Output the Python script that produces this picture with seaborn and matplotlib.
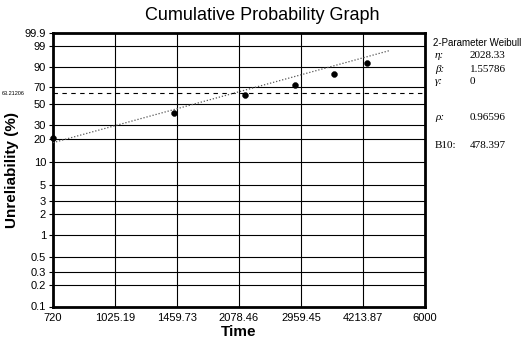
import numpy as np
import pandas as pd
import matplotlib
matplotlib.use("Agg")
import matplotlib.pyplot as plt
import seaborn as sns

# data
times = [722, 1435, 2156, 2861, 3573, 4300]
unreliability = [21, 41, 60, 72.5, 84.5, 93]

fit_times = [720, 4900]
fit_unrel = [18.1, 98.0]

x_ticks = [720, 1025.19, 1459.73, 2078.46, 2959.45, 4213.87, 6000]
x_tick_labels = ["720", "1025.19", "1459.73", "2078.46", "2959.45", "4213.87", "6000"]
y_ticks = [0.1, 0.2, 0.3, 0.5, 1, 2, 3, 5, 10, 20, 30, 50, 70, 90, 99, 99.9]
y_tick_labels = ["0.1", "0.2", "0.3", "0.5", "1", "2", "3", "5", "10", "20",
                 "30", "50", "70", "90", "99", "99.9"]
eta_level = 63.2

param_names = ["\u03b7:", "\u03b2:", "\u03b3:", "\u03c1:", "B10:"]
param_values = ["2028.33", "1.55786", "0", "0.96596", "478.397"]


def weibull_fwd(p):
    p = np.clip(np.asarray(p, dtype=float), 1e-6, 100 - 1e-6)
    return np.log(-np.log(1 - p / 100.0))


def weibull_inv(w):
    return 100.0 * (1 - np.exp(-np.exp(np.asarray(w, dtype=float))))


sns.set_style("white")
plt.rcParams['font.family'] = ['Liberation Sans', 'DejaVu Sans']
plt.rcParams['text.color'] = 'black'
plt.rcParams['axes.labelcolor'] = 'black'
plt.rcParams['xtick.color'] = 'black'
plt.rcParams['ytick.color'] = 'black'

W, H = 522, 343
fig = plt.figure(figsize=(W / 100, H / 100), dpi=100)
ax = fig.add_axes([53 / W, 1 - 306.5 / H, (425 - 53) / W, (306.5 - 33) / H])

points = pd.DataFrame({"Time": times, "Unreliability": unreliability})
fit = pd.DataFrame({"Time": fit_times, "Unreliability": fit_unrel})

ax.set_xscale("log")
ax.set_yscale("function", functions=(weibull_fwd, weibull_inv))

sns.lineplot(data=fit, x="Time", y="Unreliability", ax=ax, color="#555555",
             linestyle=(0, (1, 1.5)), linewidth=0.9, zorder=3)
ax.axhline(eta_level, color="black", linestyle=(0, (4, 4)), linewidth=0.8, zorder=2)
sns.scatterplot(data=points, x="Time", y="Unreliability", ax=ax, color="black",
                s=18, edgecolor="black", zorder=4, clip_on=False)

ax.set_xlim(720, 6000)
ax.set_ylim(0.1, 99.9)
ax.set_xticks(x_ticks)
ax.set_xticklabels(x_tick_labels)
ax.xaxis.set_minor_locator(matplotlib.ticker.NullLocator())
ax.set_yticks(y_ticks)
ax.set_yticklabels(y_tick_labels)
ax.yaxis.set_minor_locator(matplotlib.ticker.NullLocator())

ax.grid(True, color="black", linewidth=0.8)
ax.set_axisbelow(True)
for s in ax.spines.values():
    s.set_visible(True)
    s.set_color("black")
    s.set_linewidth(2)

ax.tick_params(axis="both", labelsize=8, length=3, width=0.8,
               left=True, bottom=False, pad=2)
ax.set_xlabel("Time", fontsize=11, fontweight="bold", labelpad=1)
ax.set_ylabel("Unreliability (%)", fontsize=11, fontweight="bold", labelpad=4)

fig.text(262 / W, 1 - 15 / H, "Cumulative Probability Graph", ha="center",
         va="center", fontsize=13)
fig.text(2 / W, 1 - 94 / H, "63.21206", fontsize=4, va="center", ha="left")

# parameter panel
fig.text(433 / W, 1 - 43 / H, "2-Parameter Weibull", fontsize=7, va="center")
rows_y = [56, 69, 82, 117, 146]
for name, val, y in zip(param_names, param_values, rows_y):
    fig.text(435 / W, 1 - y / H, name, fontsize=8, va="center",
             family="Liberation Serif", style="italic" if name != "B10:" else "normal")
    fig.text(470 / W, 1 - y / H, val, fontsize=8, va="center",
             family="Liberation Serif")

fig.savefig("out.png", dpi=100)
